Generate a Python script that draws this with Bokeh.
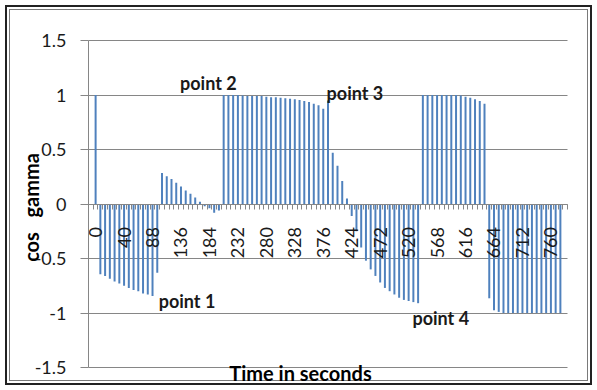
import math
from bokeh.plotting import figure
from bokeh.models import Range1d, FixedTicker, LinearAxis, Grid, Label
from bokeh.layouts import column
from bokeh.core.properties import value
from bokeh.embed import file_html
from bokeh.resources import INLINE

nan = float("nan")

# cos gamma value for each category (blank first and last categories)
cos_gamma = [
    nan,
    1.0,
    -0.645, -0.66, -0.685, -0.71, -0.73, -0.75, -0.77, -0.79, -0.80, -0.82, -0.83, -0.845, -0.63,
    0.285, 0.255, 0.23, 0.195, 0.16, 0.125, 0.095, 0.06, 0.02, -0.02, -0.04, -0.08, -0.06,
    1.0, 1.0, 1.0, 1.0, 0.995, 0.99, 0.99, 0.99, 0.99, 0.985, 0.98, 0.98, 0.975, 0.97,
    0.965, 0.96, 0.955, 0.945, 0.935, 0.92, 0.905, 0.875,
    0.95,
    0.47, 0.35, 0.21, 0.05,
    -0.11, -0.25, -0.40, -0.52, -0.60, -0.66, -0.72, -0.77, -0.80, -0.83, -0.86, -0.88,
    -0.89, -0.90, -0.91,
    1.0, 1.0, 1.0, 1.0, 1.0, 1.0, 1.0, 1.0, 0.995, 0.985, 0.975, 0.96, 0.945, 0.92,
    -0.865, -0.975, -0.99, -1.0, -1.0, -1.0, -1.0, -1.0, -1.0, -1.0, -1.0, -1.0, -1.0,
    -1.0, -1.0, -1.0,
    nan,
]

# time labels shown on the category axis (every 6th category, starting at the 2nd)
time_labels = ["0", "40", "88", "136", "184", "232", "280", "328", "376", "424",
               "472", "520", "568", "616", "664", "712", "760"]

y_ticks = [-1.5, -1.0, -0.5, 0.0, 0.5, 1.0, 1.5]
y_tick_labels = ["-1.5", "-1", "-0.5", "0", "0.5", "1", "1.5"]

point_names = ["point 1", "point 2", "point 3", "point 4"]

FONT = "Lato"
GREY = "#868686"

n = len(cos_gamma)
idx = list(range(n))
label_every = 6
label_pos = [1 + label_every * k for k in range(len(time_labels))]
boundaries = [i - 0.5 for i in range(n + 1)]

# ---- layout: the frame covers the whole canvas; the plot area sits inside it
W, H = 597, 390
L, R, T, B = 88.0, 567.0, 40.0, 367.0          # plot-area edges in pixels
x0, x1 = -0.5, n - 0.5
y0, y1 = y_ticks[0], y_ticks[-1]
sx = (R - L) / (x1 - x0)
sy = (B - T) / (y1 - y0)


def px_x(px):
    return x0 + (px - L) / sx


def px_y(py):
    return y1 - (py - T) / sy


frame_css = {
    "background-color": "#ffffff",
    "box-shadow": ("inset 0 0 0 5px #ffffff, inset 0 0 0 7px #222222, "
                   "inset 0 0 0 9px #ffffff, inset 0 0 0 10px #7a7a7a"),
}

p = figure(width=W, height=H, output_backend="svg", toolbar_location=None,
           x_range=Range1d(px_x(0), px_x(W)), y_range=Range1d(px_y(H), px_y(0)),
           x_axis_location=None, y_axis_location=None,
           min_border_left=0, min_border_right=0, min_border_top=0, min_border_bottom=0,
           styles=frame_css)
p.outline_line_color = None
p.background_fill_color = None
p.border_fill_color = None
p.xgrid.visible = False
p.ygrid.visible = False

yt = FixedTicker(ticks=y_ticks)
p.add_layout(Grid(dimension=1, ticker=yt, cross_bounds=(x0, x1),
                  grid_line_color=GREY, grid_line_width=1))

p.vbar(x=idx, top=cos_gamma, bottom=0, width=0.42, fill_color="#4F81BD",
       line_color=None)

# value axis
ya = LinearAxis(fixed_location=x0, bounds=(y0, y1), ticker=yt,
                major_label_overrides={t: s for t, s in zip(y_ticks, y_tick_labels)},
                axis_line_color=GREY, major_tick_line_color=GREY,
                major_tick_in=0, major_tick_out=8, minor_tick_line_color=None,
                major_label_standoff=14, major_label_text_font=FONT,
                major_label_text_font_size="18px", major_label_text_color="#1a1a1a")
p.add_layout(ya, "left")

# category axis crossing at 0
xa = LinearAxis(fixed_location=0, bounds=(x0, x1),
                ticker=FixedTicker(ticks=label_pos, minor_ticks=boundaries),
                major_label_overrides={pos: s for pos, s in zip(label_pos, time_labels)},
                major_label_orientation=math.pi / 2,
                axis_line_color=GREY,
                major_tick_line_color=None, major_tick_in=0, major_tick_out=5,
                minor_tick_line_color=GREY, minor_tick_in=0, minor_tick_out=5,
                major_label_standoff=18,
                major_label_text_font=FONT, major_label_text_font_size="18px",
                major_label_text_color="#1a1a1a")
p.add_layout(xa, "below")

# point annotations
p.text(x=[14.3, 18.8, 49.7, 67.8], y=[-0.89, 1.11, 1.02, -1.05], text=point_names,
       text_font=value(FONT), text_font_style="bold", text_font_size="18px",
       text_align="left", text_baseline="middle", text_color="#1a1a1a")

# axis titles
p.add_layout(Label(x=px_x(300), y=px_y(372), text="Time in seconds",
                   text_align="center", text_baseline="middle", text_font=FONT,
                   text_font_style="bold", text_font_size="20px", text_color="#000000"))
p.add_layout(Label(x=px_x(30), y=px_y(207), text="cos\u00a0\u00a0\u00a0gamma", angle=math.pi / 2,
                   text_align="center", text_baseline="middle", text_font=FONT,
                   text_font_style="bold", text_font_size="20px", text_color="#000000"))

layout = column(p, styles=frame_css)

open("out.html", "w").write(file_html(layout, INLINE))
